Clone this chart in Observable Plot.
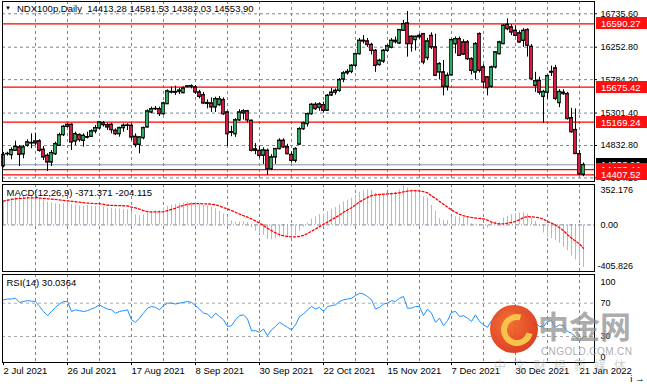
<!DOCTYPE html>
<html><head><meta charset="utf-8">
<script src="https://cdn.jsdelivr.net/npm/d3@7"></script>
<script src="https://cdn.jsdelivr.net/npm/@observablehq/plot@0.6"></script>
<style>
body{margin:0;background:#fff;}
#chart{position:relative;width:647px;height:384px;overflow:hidden;font-family:"Liberation Sans",Arial,sans-serif;background:#fff;}
#chart svg{position:absolute;left:0;}
.t{position:absolute;white-space:pre;color:#000;font-size:9.5px;line-height:1;}
.wm{position:absolute;white-space:pre;pointer-events:none;line-height:1;}
</style>
</head><body>
<div id="chart"></div>
<script>
// ---------- data ----------
const dateLabels = ["2 Jul 2021","26 Jul 2021","17 Aug 2021","8 Sep 2021","30 Sep 2021","22 Oct 2021","15 Nov 2021","7 Dec 2021","30 Dec 2021","21 Jan 2022"];
const dateLabelBars = [0,16,32,48,64,80,96,112,128,144];
const gridBars = [8,16,24,32,40,48,56,64,72,80,88,96,104,112,120,128,136,144];

const opens = [14539,14712,14698,14760,14809,14708,14833,14868,14867,14895,
14775,14688,14592,14712,14833,14987,15107,15136,14895,14987,
14905,14953,14963,15040,15083,15160,15131,15136,15050,15001,
15088,15122,15122,14963,14847,14944,15098,15314,15362,15362,
15290,15435,15610,15600,15610,15594,15685,15690,15676,15603,
15565,15450,15444,15387,15420,15493,15314,15030,15000,15200,
15300,15330,15194,14780,14760,14690,14761,14495,14664,14785,
14905,14810,14700,14616,14850,15073,15146,15290,15425,15380,
15420,15340,15560,15600,15627,15790,15880,15900,15989,16157,
16350,16340,16290,16205,16000,16050,16205,16250,16350,16311,
16494,16600,16408,16360,16400,16446,16100,16420,16254,15892,
15892,15685,15850,16300,16373,16326,16326,16085,15892,16446,
15965,15820,15685,15965,16157,16302,16581,16543,16494,16456,
16350,16504,16263,15700,15770,15540,15600,15890,15950,15450,
15600,15580,15230,15060,14712,14413.28];
const highs = [14732,14736,14799,14895,14833,14833,14915,15001,15011,14915,
14818,14712,14760,14881,15011,15122,15146,15146,15025,15001,
15001,15025,15059,15122,15180,15180,15155,15155,15074,15098,
15146,15146,15146,15001,14963,15098,15348,15387,15396,15387,
15460,15637,15676,15690,15660,15680,15700,15710,15700,15630,
15600,15492,15520,15531,15540,15520,15330,15110,15220,15350,
15350,15340,15200,14860,14820,14800,14780,14700,14790,14930,
14930,14850,14740,14800,15090,15170,15300,15440,15450,15450,
15460,15570,15660,15650,15800,15900,15930,16000,16170,16380,
16420,16380,16310,16220,16080,16220,16290,16380,16400,16510,
16640,16769,16420,16410,16440,16450,16380,16460,16440,16030,
16060,15880,16370,16400,16400,16360,16350,16100,16320,16460,
16000,15830,15980,16190,16340,16580,16663,16580,16560,16490,
16520,16520,16290,15890,15820,15630,15850,15980,15990,15640,
15640,15600,15370,15360,14760,14581.53];
const lows = [14510,14679,14626,14751,14529,14640,14809,14785,14833,14736,
14616,14457,14529,14688,14818,14963,15083,14760,14833,14881,
14809,14929,14953,15001,15059,15098,15050,15001,14977,14953,
15025,15050,14905,14799,14712,14915,15088,15290,15338,15252,
15270,15425,15579,15555,15570,15580,15665,15650,15570,15505,
15430,15362,15310,15310,15400,15270,14818,14960,14950,15180,
15200,15160,14740,14700,14650,14560,14399,14470,14560,14770,
14790,14700,14580,14580,14840,15050,15100,15270,15340,15330,
15300,15330,15540,15560,15600,15740,15850,15870,15960,16140,
16300,16250,16140,15890,15980,16020,16180,16230,16300,16290,
16480,16109,16181,16200,16370,16000,16060,16220,15840,15780,
15550,15620,15840,16157,16120,16140,16060,15850,15780,15880,
15650,15550,15660,15940,16140,16290,16490,16420,16400,16310,
16250,16110,15770,15600,15560,15150,15500,15830,15480,15380,
15560,15200,15010,14700,14407.52,14382.03];
const closes = [14698,14715,14770,14818,14703,14809,14881,14873,14895,14760,
14664,14592,14727,14857,14987,15107,15136,14881,15001,14915,
14977,14955,15040,15088,15170,15131,15098,15059,15001,15088,
15122,15125,14953,14847,14953,15088,15329,15362,15365,15290,
15444,15618,15603,15610,15630,15661,15690,15692,15603,15541,
15444,15440,15387,15507,15505,15290,15001,15020,15200,15314,
15330,15200,14761,14760,14688,14765,14495,14664,14785,14905,
14810,14712,14616,14785,15073,15156,15290,15425,15363,15430,
15338,15555,15600,15627,15782,15878,15900,15989,16157,16350,
16340,16290,16205,15989,16061,16205,16270,16350,16330,16504,
16591,16302,16302,16408,16420,16037,16340,16254,15844,16013,
15685,15844,16360,16373,16133,16150,16085,15916,16302,15916,
15748,15666,15965,16181,16326,16567,16518,16470,16422,16326,
16494,16280,15796,15765,15600,15610,15840,15900,15510,15610,
15580,15220,15030,14715,14420,14553.90];

const macdMain = [207,222,232,240,246,250,252,254,252,236,
220,200,190,184,180,185,195,180,172,165,
160,168,165,160,162,158,150,145,140,138,
135,132,118,88,80,85,100,112,120,125,
150,163,172,178,184,190,193,194,193,178,
170,163,152,140,118,95,55,35,25,25,
28,20,-25,-55,-80,-90,-125,-130,-122,-108,
-100,-100,-105,-95,-55,-20,15,50,70,90,
95,115,135,150,175,200,215,232,258,285,
300,305,300,275,262,262,268,278,285,305,
340,320,305,295,285,245,235,170,120,55,
40,38,65,72,68,65,62,10,5,-10,
-25,-27,20,25,20,60,75,90,100,105,
107,95,55,30,-15,-70,-110,-118,-135,-160,
-195,-225,-270,-305,-340,-371.371];
const macdSignal = [207,215,222,228,231,233,235,236,237,234,
232,228,225,222,218,214,210,206,202,198,
194,190,188,186,185,180,172,170,169,168,
167,165,155,148,138,125,115,113,113,113,
115,125,135,145,160,170,180,184,185,185,
184,183,180,175,165,150,140,125,110,95,
80,68,52,35,15,-5,-30,-50,-70,-85,
-95,-100,-105,-105,-100,-90,-75,-55,-35,-15,
5,25,45,65,85,110,130,150,175,200,
220,240,255,262,265,268,270,272,275,280,
288,295,298,298,296,290,280,252,232,205,
180,155,130,110,92,80,72,65,60,57,
53,42,25,15,10,9,15,22,30,45,
65,72,70,68,62,50,30,15,0,-25,
-50,-85,-115,-140,-165,-204.115];
const rsi14 = [74,75,75,76,71,72,73,72.5,72,66,
60,55,60,65,69,72,72,60,62,61,
60,61,63,65,68,65,63,62,58,60,
61,62,50,47,52,58,64,66,65,62,
67,70,70,69,70,71,72,71,67,63,
58,57,52,58,54,50,42,43,50,55,
56,51,37,37,35,39,31,38,42,47,
44,41,38,44,54,57,62,66,63,65,
60,66,67,68,72,74,75,76,79,82,
81,78,74,63,65,69,70,73,72,76,
78,64,64,66,66,55,63,58,47,52,
43,49,59,60,54,55,52,48,56,48,
44,41,49,54,58,64,61,61,60,58,
60,54,44,46,42,42,48,49,41,44,
43,36,34,30,24,30.0364];

const priceTicks = [16735.60,16252.80,15784.20,15301.40,14832.80,14364.20];
const redLevels = [16590.27,15675.42,15169.24,14483.44,14407.52];
const lastPrice = 14553.90;
const macdTickLabels = [352.176,0,-405.826];
const rsiTickLabels = [100,70,30,0];
const rsiLevels = [70,30];
const titleText = "NDX100p,Daily  14413,28 14581,53 14382,03 14553,90";
const macdText = "MACD(12,26,9) -371.371 -204.115";
const rsiText = "RSI(14) 30.0364";

// ---------- tables ----------
const bars = closes.map((c,i)=>({i, open:opens[i], high:highs[i], low:lows[i], close:c}));
const macdRows = macdMain.map((m,i)=>({i, m, s:macdSignal[i]}));
const rsiRows = rsi14.map((r,i)=>({i, r}));

// ---------- style ----------
const FONT = '"Liberation Sans", Arial, sans-serif';
const gridColor = "#76889a";
const W = 647, ML = 2, MR = 53;
const xDomain = [-0.25, 147.75];
const baseStyle = {fontFamily:FONT, fontSize:"9px", color:"#000", background:"transparent", overflow:"visible"};
const chart = document.getElementById("chart");

// ---------- price panel ----------
const price = Plot.plot({
  width:W, height:183, marginTop:1, marginBottom:2, marginLeft:ML, marginRight:MR,
  style:baseStyle,
  x:{type:"linear", domain:xDomain, axis:null},
  y:{type:"linear", domain:[14312.6,16913.3], axis:null},
  marks:[
    Plot.ruleY(priceTicks,{stroke:gridColor, strokeDasharray:"3,3"}),
    Plot.ruleX(gridBars,{stroke:gridColor, strokeDasharray:"3,3"}),
    Plot.ruleY(redLevels,{stroke:"#ff0000", strokeWidth:1.3}),
    Plot.ruleY([lastPrice],{stroke:"#8393a3", strokeWidth:1}),
    Plot.ruleX(bars,{x:"i", y1:"low", y2:"high", stroke:"#000", strokeWidth:1}),
    Plot.rect(bars,{x1:d=>d.i-0.4, x2:d=>d.i+0.4, y1:"open", y2:"close",
      fill:d=>d.close>=d.open?"#2fa860":"#d81b3c", stroke:"#111", strokeWidth:0.8}),
    Plot.ruleY(bars,{y:"open", x1:d=>d.i-0.45, x2:d=>d.i+0.45, stroke:"#000", strokeWidth:1}),
    Plot.ruleY(bars,{y:"close", x1:d=>d.i-0.45, x2:d=>d.i+0.45, stroke:"#000", strokeWidth:1}),
    Plot.frame({stroke:"#000"}),
    Plot.axisY(priceTicks,{anchor:"right", tickSize:2, tickPadding:4, tickFormat:d=>d.toFixed(2), fontSize:9})
  ]
});
price.style.top = "0px";
chart.appendChild(price);

// value boxes on the right axis, placed through the plot's own y scale
(function(){
  const sy = price.scale("y");
  const g = d3.select(price).append("g").attr("font-family", FONT).attr("font-size", 9.5).attr("text-anchor", "start");
  const items = [{v:lastPrice, c:"#000"}].concat(redLevels.map(v=>({v, c:"#ff1010"})));
  const bx = W - MR + 2;
  for (const it of items) {
    const y = sy.apply(it.v);
    g.append("rect").attr("x", bx).attr("y", Math.round(y) - 6).attr("width", W - bx).attr("height", 12).attr("fill", it.c);
    g.append("text").attr("x", bx + 5).attr("y", Math.round(y) + 0.5).attr("dy", "0.36em")
      .attr("text-anchor", "start").attr("fill", "#fff").text(it.v.toFixed(2));
  }
})();

// ---------- MACD panel ----------
const macd = Plot.plot({
  width:W, height:89, marginTop:1, marginBottom:1, marginLeft:ML, marginRight:MR,
  style:baseStyle,
  x:{type:"linear", domain:xDomain, axis:null},
  y:{type:"linear", domain:[-405.826,352.176], axis:null},
  marks:[
    Plot.ruleX(gridBars,{stroke:gridColor, strokeDasharray:"3,3"}),
    Plot.ruleX(macdRows,{x:"i", y1:0, y2:"m", stroke:"#b9b9b9", strokeWidth:1}),
    Plot.ruleY([0],{stroke:"#7a8a9a", strokeDasharray:"4,2,1,2"}),
    Plot.line(macdRows,{x:"i", y:"s", stroke:"#ff0000", strokeWidth:1.3, strokeDasharray:"2,2"}),
    Plot.frame({stroke:"#000"}),
    Plot.text([macdText],{frameAnchor:"top-left", dx:4, dy:5, textAnchor:"start", lineAnchor:"top", fontSize:9.5, fill:"#000"}),
    Plot.text([macdTickLabels[0]],{y:d=>d, text:d=>d.toFixed(3), frameAnchor:"right", dx:6, dy:6, textAnchor:"start", fontSize:9}),
    Plot.text([macdTickLabels[1]],{y:d=>d, text:d=>d.toFixed(2), frameAnchor:"right", dx:6, textAnchor:"start", fontSize:9}),
    Plot.text([macdTickLabels[2]],{y:d=>d, text:d=>d.toFixed(3), frameAnchor:"right", dx:3, dy:-5, textAnchor:"start", fontSize:9})
  ]
});
macd.style.top = "183px";
chart.appendChild(macd);

// ---------- RSI panel ----------
const rsi = Plot.plot({
  width:W, height:111, marginTop:1, marginBottom:22, marginLeft:ML, marginRight:MR,
  style:baseStyle,
  x:{type:"linear", domain:xDomain, axis:null},
  y:{type:"linear", domain:[-1.2,104.4], axis:null},
  marks:[
    Plot.ruleX(gridBars,{stroke:gridColor, strokeDasharray:"3,3"}),
    Plot.ruleY(rsiLevels,{stroke:"#a8a8a8", strokeDasharray:"3,3"}),
    Plot.line(rsiRows,{x:"i", y:"r", stroke:"#1e90ff", strokeWidth:1}),
    Plot.frame({stroke:"#000"}),
    Plot.text([rsiText],{frameAnchor:"top-left", dx:4, dy:5, textAnchor:"start", lineAnchor:"top", fontSize:9.5, fill:"#000"}),
    Plot.text([rsiTickLabels[0]],{y:d=>d, text:d=>String(d), frameAnchor:"right", dx:6, dy:4, textAnchor:"start", fontSize:9}),
    Plot.text(rsiTickLabels.slice(1,3),{y:d=>d, text:d=>String(d), frameAnchor:"right", dx:6, textAnchor:"start", fontSize:9}),
    Plot.text([rsiTickLabels[3]],{y:d=>d, text:d=>String(d), frameAnchor:"right", dx:6, dy:-4, textAnchor:"start", fontSize:9}),
    Plot.axisX(dateLabelBars,{anchor:"bottom", tickSize:3, tickPadding:2, textAnchor:"start",
      tickFormat:d=>dateLabels[dateLabelBars.indexOf(d)], fontSize:9.5})
  ]
});
rsi.style.top = "273px";
chart.appendChild(rsi);

// ---------- title ----------
function addText(cls, text, left, top, css){
  const d = document.createElement("div");
  d.className = cls; d.textContent = text;
  d.style.left = left + "px"; d.style.top = top + "px";
  if (css) Object.assign(d.style, css);
  chart.appendChild(d);
  return d;
}
addText("t", "\u25BC", 5, 5, {fontSize:"6px"});
addText("t", titleText, 17, 4, {});

// ---------- watermark ----------
const logo = document.createElement("div");
Object.assign(logo.style, {position:"absolute", left:"490px", top:"305px", width:"48px", height:"48px", borderRadius:"50%",
  background:"radial-gradient(circle at 40% 38%, #f26a2c 0%, #e2401c 60%, #c9301a 100%)", opacity:"0.95"});
const swirl = document.createElement("div");
Object.assign(swirl.style, {position:"absolute", left:"11px", top:"9px", width:"20px", height:"20px", borderRadius:"50%",
  border:"6px solid #f7c040", borderRightColor:"transparent", transform:"rotate(-30deg)"});
logo.appendChild(swirl);
chart.appendChild(logo);
addText("wm", "中金网", 538, 309, {fontFamily:'"Noto Sans CJK SC", sans-serif', fontWeight:"700", fontSize:"31px", color:"rgba(140,140,140,0.72)"});
addText("wm", "CNGOLD.COM.CN", 541, 347, {fontFamily:FONT, fontSize:"10px", letterSpacing:"0.4px", color:"rgba(150,150,150,0.8)"});
addText("wm", "中文财经新媒体", 494, 359, {fontFamily:'"Noto Sans CJK SC", sans-serif', fontSize:"12px", letterSpacing:"8px", color:"rgba(170,170,170,0.55)"});
</script>
</body></html>
